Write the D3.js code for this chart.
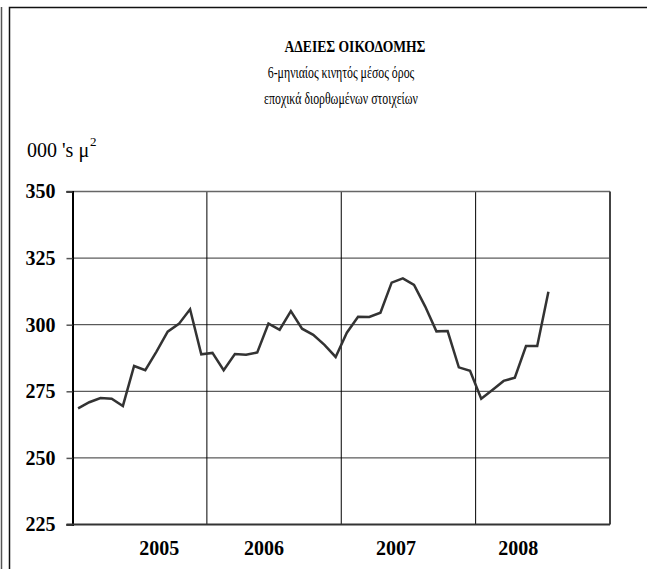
<!DOCTYPE html>
<html>
<head>
<meta charset="utf-8">
<script src="https://cdn.jsdelivr.net/npm/d3@7"></script>
<style>
  body { margin: 0; background: #fff; }
  svg { display: block; }
</style>
</head>
<body>
<svg class="chart"></svg>
<script>
// 6-month moving average, monthly (000's m2)
var values = [268.6, 270.9, 272.5, 272.2, 269.5, 284.5, 282.9, 289.9, 297.4, 300.3,
              305.8, 288.9, 289.4, 282.9, 289.0, 288.7, 289.6, 300.4, 298.1, 305.1,
              298.5, 296.2, 292.4, 287.9, 297.0, 303.0, 302.9, 304.5, 315.8, 317.4,
              314.9, 306.8, 297.5, 297.6, 284.0, 282.7, 272.2, 275.5, 278.9, 280.1,
              292.0, 292.0, 312.4];
var yTicks = [225, 250, 275, 300, 325, 350];
var years = ["2005", "2006", "2007", "2008"];
// where the year labels sit, in months from the left edge
var yearLabelPos = [7.75, 17.1, 28.9, 39.8];
var monthsPerYear = 12;

var FONT = "'Liberation Serif'";
var W = 647, H = 569;
var margin = {top: 191.5, right: 37, bottom: 44.5, left: 72.5};

var svg = d3.select(".chart").attr("width", W).attr("height", H);

// outer frame (double line on the left, line on top)
svg.append("line").attr("x1", 1.5).attr("x2", 1.5).attr("y1", 7).attr("y2", H)
    .attr("stroke", "#555").attr("stroke-width", 1.5);
svg.append("path").attr("d", "M9.5," + H + "V7.5H" + W)
    .attr("fill", "none").attr("stroke", "#111").attr("stroke-width", 1.5);

// titles (the original text is a bit condensed)
function label(txt, cx, yy, size, bold, sx) {
    return svg.append("text")
        .attr("transform", "translate(" + cx + "," + yy + ") scale(" + sx + ",1)")
        .attr("text-anchor", "middle")
        .style("font-family", FONT).style("font-size", size + "px")
        .style("font-weight", bold ? "bold" : "normal").text(txt);
}
label("ΑΔΕΙΕΣ ΟΙΚΟΔΟΜΗΣ", 355, 52, 16, true, 0.85);
label("6-μηνιαίος κινητός μέσος όρος", 341, 78, 16, false, 0.74);
label("εποχικά διορθωμένων στοιχείων", 341, 104, 16, false, 0.74);

var unit = svg.append("text").attr("x", 27).attr("y", 157)
    .style("font-family", FONT).style("font-size", "20px");
unit.append("tspan").text("000 's μ");
unit.append("tspan").attr("dx", 1).attr("dy", -11).style("font-size", "13px").text("2");

var x = d3.scaleLinear().domain([0, years.length * monthsPerYear])
    .range([margin.left, W - margin.right]);
var y = d3.scaleLinear().domain([225, 350])
    .range([H - margin.bottom, margin.top]);

var g = svg.append("g");

// horizontal grid
g.selectAll(".hgrid").data(yTicks.slice(1, -1)).enter().append("line")
    .attr("class", "hgrid")
    .attr("x1", x(0)).attr("x2", x(48))
    .attr("y1", d => y(d)).attr("y2", d => y(d))
    .attr("stroke", "#333").attr("stroke-width", 1);

// vertical grid at year boundaries
g.selectAll(".vgrid").data(d3.range(1, years.length)).enter().append("line")
    .attr("class", "vgrid")
    .attr("x1", d => x(d * monthsPerYear)).attr("x2", d => x(d * monthsPerYear))
    .attr("y1", y(350)).attr("y2", y(225))
    .attr("stroke", "#000").attr("stroke-width", 1);

// top and right border
g.append("line").attr("x1", x(0) - 6).attr("x2", x(48)).attr("y1", y(350)).attr("y2", y(350))
    .attr("stroke", "#666").attr("stroke-width", 1.5);
g.append("line").attr("x1", x(48)).attr("x2", x(48)).attr("y1", y(350)).attr("y2", y(225))
    .attr("stroke", "#444").attr("stroke-width", 2);

// y axis
var yAxis = d3.axisLeft(y).tickValues(yTicks).tickSize(6).tickPadding(11);
var ya = g.append("g").attr("transform", "translate(" + x(0) + ",0)").call(yAxis);
ya.select(".domain").attr("stroke", "#000").attr("stroke-width", 2);
ya.selectAll(".tick line").attr("stroke", "#555").attr("stroke-width", 1.5);
ya.selectAll(".tick text").style("font-family", FONT).style("font-size", "20px")
    .style("font-weight", "bold").attr("fill", "#000");

// bottom axis
g.append("line").attr("x1", x(0) - 6).attr("x2", x(48)).attr("y1", y(225)).attr("y2", y(225))
    .attr("stroke", "#333").attr("stroke-width", 2);

g.selectAll(".year").data(years).enter().append("text")
    .attr("class", "year")
    .attr("x", (d, i) => x(yearLabelPos[i]))
    .attr("y", H - margin.bottom + 30)
    .attr("text-anchor", "middle")
    .style("font-family", FONT).style("font-size", "20px").style("font-weight", "bold")
    .text(d => d);

// the series
var line = d3.line().x((d, i) => x(i + 0.5)).y(d => y(d));
g.append("path").datum(values)
    .attr("d", line)
    .attr("fill", "none")
    .attr("stroke", "#333")
    .attr("stroke-width", 2.5)
    .attr("stroke-linejoin", "miter");
</script>
</body>
</html>
